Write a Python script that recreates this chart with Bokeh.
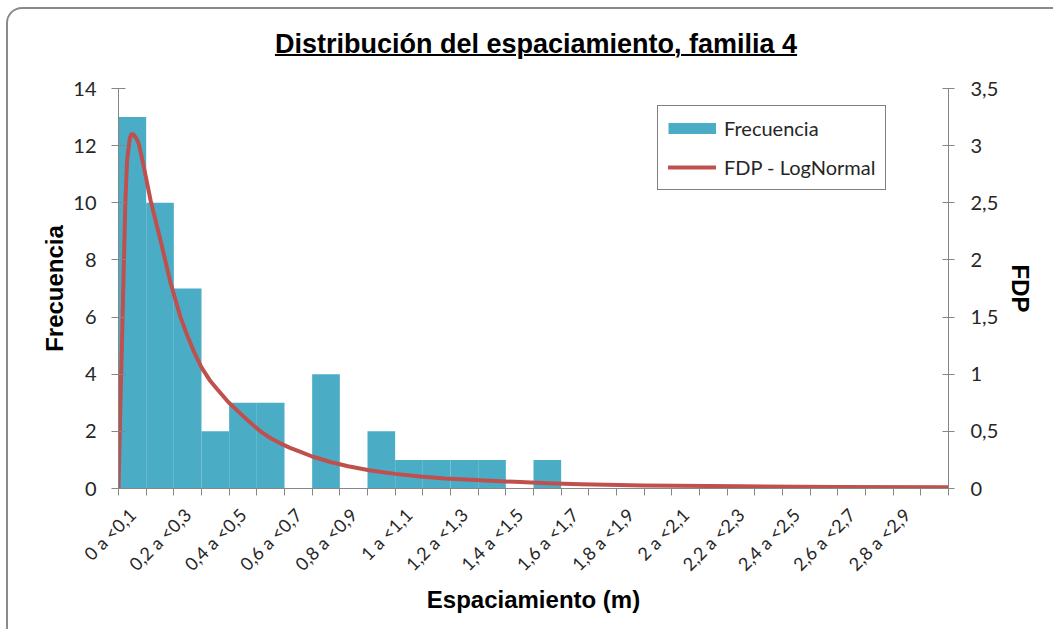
from bokeh.plotting import figure
from bokeh.models import (Range1d, LinearAxis, FixedTicker, CustomJSTickFormatter,
                          Legend, LegendItem, ColumnDataSource, Div)
from bokeh.layouts import column
from bokeh.embed import file_html
from bokeh.resources import INLINE
from math import pi

# ---------------- data ----------------
title_text = "Distribución del espaciamiento, familia 4"
bin_labels = ["0 a <0,1", "0,1 a <0,2", "0,2 a <0,3", "0,3 a <0,4", "0,4 a <0,5",
              "0,5 a <0,6", "0,6 a <0,7", "0,7 a <0,8", "0,8 a <0,9", "0,9 a <1",
              "1 a <1,1", "1,1 a <1,2", "1,2 a <1,3", "1,3 a <1,4", "1,4 a <1,5",
              "1,5 a <1,6", "1,6 a <1,7", "1,7 a <1,8", "1,8 a <1,9", "1,9 a <2",
              "2 a <2,1", "2,1 a <2,2", "2,2 a <2,3", "2,3 a <2,4", "2,4 a <2,5",
              "2,5 a <2,6", "2,6 a <2,7", "2,7 a <2,8", "2,8 a <2,9", "2,9 a <3"]
frequency = [13, 10, 7, 2, 3, 3, 0, 4, 0, 2, 1, 1, 1, 1, 0, 1, 0, 0, 0, 0,
             0, 0, 0, 0, 0, 0, 0, 0, 0, 0]
bin_width = 0.1  # m

# FDP - LogNormal curve (x in m, density)
pdf_x = [0.0, 0.0072, 0.0133, 0.019, 0.025, 0.031, 0.041, 0.047, 0.053, 0.063, 0.073,
         0.092, 0.116, 0.152, 0.188, 0.224, 0.25, 0.272, 0.30, 0.332, 0.36, 0.399, 0.441,
         0.47, 0.513, 0.55, 0.585, 0.62, 0.658, 0.70, 0.766, 0.83, 0.911, 1.0, 1.091,
         1.18, 1.272, 1.36, 1.453, 1.55, 1.67, 1.9, 2.25, 2.6, 3.0]
pdf_y = [0.0, 0.77, 1.35, 1.94, 2.52, 2.87, 3.07, 3.10, 3.10, 3.07, 3.02,
         2.81, 2.52, 2.17, 1.80, 1.50, 1.33, 1.20, 1.06, 0.94, 0.86, 0.75, 0.655,
         0.59, 0.50, 0.44, 0.395, 0.355, 0.32, 0.28, 0.232, 0.195, 0.157, 0.128, 0.105,
         0.088, 0.076, 0.065, 0.056, 0.047, 0.038, 0.027, 0.019, 0.014, 0.011]

freq_ticks = [0, 2, 4, 6, 8, 10, 12, 14]
pdf_ticks = [0, 0.5, 1, 1.5, 2, 2.5, 3, 3.5]

# ---------------- figure ----------------
AXIS_GREY = "#868686"
TICK_FONT = "Lato"
TXT = "#262626"
NAN = float("nan")
W = 1045

n_bins = len(frequency)
x_max = n_bins * bin_width

# title block (underlined, as in the reference)
title_div = Div(
    text=('<div style="width: %dpx; box-sizing: border-box; '
          'font-family: \'Liberation Sans\'; font-weight: bold; '
          'font-size: 27px; line-height: 31px; color: black; text-align: center; '
          'padding-top: 20px; padding-left: 11px; white-space: nowrap;">'
          '<span style="text-decoration: underline; text-decoration-thickness: 2.4px; '
          'text-underline-offset: 1px;">%s</span></div>') % (W, title_text),
    width=W, height=60, margin=0)

p = figure(width=W, height=560, output_backend="svg", toolbar_location=None,
           x_range=Range1d(0, x_max), y_range=Range1d(freq_ticks[0], freq_ticks[-1]),
           min_border_left=110, min_border_right=105, min_border_top=19,
           min_border_bottom=141, margin=0)
p.extra_y_ranges = {"pdf": Range1d(pdf_ticks[0], pdf_ticks[-1])}
p.grid.visible = False
p.outline_line_color = None
p.background_fill_color = "white"
p.border_fill_color = "white"

# bars
centers = [(i + 0.5) * bin_width for i in range(n_bins)]
src = ColumnDataSource(dict(x=centers, top=frequency, label=bin_labels))
p.vbar(x="x", top="top", width=bin_width, source=src,
       fill_color="#4BACC6", line_color=None)

# curve
curve = p.line(pdf_x, pdf_y, y_range_name="pdf", line_color="#C0504D",
               line_width=4, line_join="round", line_cap="round")

# legend proxy for the histogram patch (no visible data)
proxy = p.line(x=[NAN, NAN], y=[NAN, NAN], line_color="#4BACC6", line_width=11,
               line_cap="butt")

legend = Legend(items=[LegendItem(label="Frecuencia", renderers=[proxy]),
                       LegendItem(label="FDP - LogNormal", renderers=[curve])],
                location=(539, 298))
legend.border_line_color = "black"
legend.border_line_width = 1
legend.padding = 10
legend.spacing = 15
legend.margin = 0
legend.label_height = 24
legend.glyph_height = 24
legend.glyph_width = 48
legend.label_standoff = 8
legend.label_text_font = TICK_FONT
legend.label_text_font_size = "20px"
legend.label_text_color = TXT
legend.background_fill_alpha = 1.0
p.add_layout(legend, "center")

# x axis (bottom)
xax = p.below[0]
xax.ticker = FixedTicker(ticks=[(i + 0.5) * bin_width for i in range(0, n_bins, 2)],
                         minor_ticks=[i * bin_width for i in range(n_bins + 1)])
xax.formatter = CustomJSTickFormatter(args=dict(labels=bin_labels), code="""
    const i = Math.round(tick * 10 - 0.5);
    return (labels[i] !== undefined) ? labels[i] : "";
""")
xax.major_label_orientation = pi / 4
xax.major_tick_in = 0
xax.major_tick_out = 0
xax.minor_tick_in = 0
xax.minor_tick_out = 7
xax.minor_tick_line_color = AXIS_GREY
xax.axis_line_color = AXIS_GREY
xax.major_label_standoff = 16
xax.major_label_text_font = TICK_FONT
xax.major_label_text_font_size = "18px"
xax.major_label_text_color = TXT
xax.axis_label = "Espaciamiento (m)"
xax.axis_label_standoff = 0

# left axis
yax = p.left[0]
yax.ticker = FixedTicker(ticks=freq_ticks)
yax.major_tick_in = 7
yax.major_tick_out = 7
yax.minor_tick_line_color = None
yax.axis_line_color = AXIS_GREY
yax.major_tick_line_color = AXIS_GREY
yax.major_label_standoff = 15
yax.major_label_text_font = TICK_FONT
yax.major_label_text_font_size = "20px"
yax.major_label_text_color = TXT
yax.axis_label = "Frecuencia"
yax.axis_label_standoff = 2

# right axis
rax = LinearAxis(y_range_name="pdf", ticker=FixedTicker(ticks=pdf_ticks),
                 formatter=CustomJSTickFormatter(code="return tick.toString().replace('.', ',');"))
rax.major_tick_in = 6
rax.major_tick_out = 6
rax.minor_tick_line_color = None
rax.axis_line_color = AXIS_GREY
rax.major_tick_line_color = AXIS_GREY
rax.major_label_standoff = 16
rax.major_label_text_font = TICK_FONT
rax.major_label_text_font_size = "20px"
rax.major_label_text_color = TXT
rax.axis_label = "FDP"
rax.axis_label_standoff = 6
p.add_layout(rax, "right")

for ax in (xax, yax, rax):
    ax.axis_label_text_font = "Liberation Sans"
    ax.axis_label_text_font_style = "bold"
    ax.axis_label_text_font_size = "24px"
    ax.axis_label_text_color = "black"

layout = column(title_div, p, spacing=0)
layout.styles = {"margin-left": "6px", "margin-top": "7px", "background": "white",
                 "border-top": "2px solid #8a8a8a", "border-left": "2px solid #8a8a8a",
                 "border-top-left-radius": "16px"}

open("out.html", "w").write(file_html(layout, INLINE))
